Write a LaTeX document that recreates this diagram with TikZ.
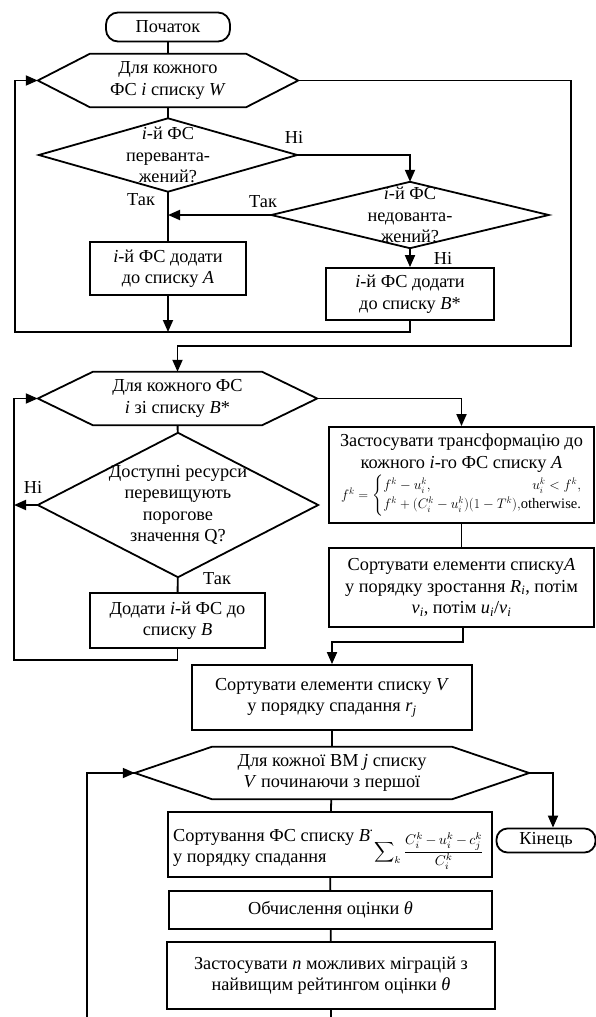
\documentclass[tikz,border=0pt]{standalone}
\usepackage{amsmath}
\usepackage{graphicx}
\usepackage{fontspec}
\setmainfont{Liberation Serif}
\usetikzlibrary{arrows.meta,calc}
\newcommand{\bodyfont}{\fontsize{18.3}{21.5}\selectfont}
\newcommand{\hexpath}[2]{\draw[ln] (#1.west) -- ([xshift=#2]#1.north west) -- ([xshift=-#2]#1.north east) -- (#1.east) -- ([xshift=-#2]#1.south east) -- ([xshift=#2]#1.south west) -- cycle;}
\newcommand{\diapath}[1]{\draw[ln] (#1.west) -- (#1.north) -- (#1.east) -- (#1.south) -- cycle;}
\newcommand{\ssub}[2]{\textit{#1}\textsubscript{\textit{#2}}}
\tikzset{
  ln/.style={line width=1.8pt, line join=miter},
  arr/.style={ln, -{Triangle[length=12pt,width=10pt]}},
  box/.style={draw, line width=1.8pt, rectangle, inner sep=0pt, align=center, font=\bodyfont},
  term/.style={draw, line width=1.8pt, rectangle, rounded corners=12pt, inner sep=0pt, align=center, font=\bodyfont},
  frame/.style={rectangle, inner sep=0pt, align=center, font=\bodyfont},
  lab/.style={font=\bodyfont, inner sep=0pt}
}
\begin{document}
\begin{tikzpicture}[x=1pt,y=-1pt]
\useasboundingbox (0,0) rectangle (596,1017);
% --- part 1
\node[term, minimum width=124pt, minimum height=29pt] (start) at (168,27) {Початок};
\node[frame, minimum width=260pt, minimum height=53pt] (hex1) at (168,80.5) {Для кожного\\ФС \textit{i} списку \textit{W}};
\hexpath{hex1}{52pt}
\node[frame, minimum width=258pt, minimum height=73pt] (dia1) at (168,155) {\textit{i}-й ФС\\переванта-\\жений?};
\diapath{dia1}
\node[frame, minimum width=277pt, minimum height=66pt] (dia2) at (410,215) {\textit{i}-й ФС\\недованта-\\жений?};
\diapath{dia2}
\node[box, minimum width=156pt, minimum height=53pt] (boxA) at (168,268.5) {\textit{i}-й ФС додати\\до списку \textit{A}};
\node[box, minimum width=168pt, minimum height=52pt] (boxBs) at (410,294) {\textit{i}-й ФС додати\\до списку \textit{B}*};
\node[lab] (l1) at (294,137) {Ні};
\node[lab] (l2) at (263,202) {Так};
\node[lab] (l3) at (141,200) {Так};
\node[lab] (l4) at (443,258) {Ні};
\coordinate (j1) at (168,332);
\coordinate (j1b) at (410,332);
\coordinate (lp1) at (15,332);
\coordinate (r1) at (571,346);
\draw[ln] (start) -- (hex1);
\draw[ln] (hex1) -- (dia1);
\draw[arr] (dia1.east) -| (dia2.north);
\draw[ln] (dia1) -- (boxA);
\draw[arr] (dia2.west) -- (dia2.west -| dia1.south);
\draw[arr] (dia2) -- (boxBs);
\draw[arr] (boxA) -- (j1);
\draw[ln] (boxBs) -- (j1b) -- (lp1) |- (hex1.west);
\draw[arr] (lp1 |- hex1.west) -- (hex1.west);
% --- part 2
\node[frame, minimum width=279pt, minimum height=53pt] (hex2) at (177.5,398.5) {Для кожного ФС\\\textit{i} зі списку \textit{B}*};
\hexpath{hex2}{55pt}
\draw[ln] (hex1.east) -| (r1) -| ($(hex2.north)+(0,-14)$);
\draw[arr] ($(hex2.north)+(0,-14)$) -- (hex2.north);
\node[frame, minimum width=280pt, minimum height=144pt] (dia3) at (178,505) {Доступні ресурси\\перевищують\\порогове\\значення Q?};
\diapath{dia3}
\node[box, minimum width=175pt, minimum height=55pt] (boxB) at (177.5,620.5) {Додати \textit{i}-й ФС до\\списку \textit{B}};
\node[lab] (l5) at (33,487) {Ні};
\node[lab] (l6) at (217,579) {Так};
\coordinate (lp2) at (14,660);
\draw[ln] (hex2) -- (dia3);
\draw[ln] (dia3) -- (boxB);
\draw[ln] (boxB.south) -- (boxB.south |- lp2) -- (lp2) |- (hex2.west);
\draw[arr] (lp2 |- hex2.west) -- (hex2.west);
\draw[arr] (dia3.west) -- (dia3.west -| lp2);
\node[box, minimum width=265pt, minimum height=96pt] (boxT) at (461.5,475) {Застосувати трансформацію до\\кожного \textit{i}-го ФС списку \textit{A}\\[2pt]
\resizebox{241pt}{!}{$f^k=\left\{\renewcommand{\arraystretch}{1.1}\begin{array}{@{}l@{}r@{}} f^k-u_i^k, & u_i^k<f^k,\\ f^k+(C_i^k-u_i^k)(1-T^k), & \text{otherwise.}\end{array}\right.$}};
\node[box, minimum width=265pt, minimum height=79pt] (boxS) at (461.5,587.5) {Сортувати елементи списку\textit{A}\\у порядку зростання \ssub{R}{i}, потім\\\ssub{v}{i}, потім \ssub{u}{i}/\ssub{v}{i}};
\draw[arr] (hex2.east) -| (boxT.north);
\draw[ln] (boxT) -- (boxS);
% --- part 3
\node[box, minimum width=280pt, minimum height=65pt] (boxV) at (332,697.5) {Сортувати елементи списку \textit{V}\\у порядку спадання \ssub{r}{j}};
\coordinate (j2) at (463,642);
\draw[ln] (boxS.south -| j2) -- (j2) -| ($(boxV.north)+(0,-12)$);
\draw[arr] ($(boxV.north)+(0,-12)$) -- (boxV.north);
\node[frame, minimum width=394pt, minimum height=52pt] (hex3) at (332,773) {Для кожної ВМ \textit{j} списку\\\textit{V} починаючи з першої};
\hexpath{hex3}{77pt}
\draw[ln] (boxV) -- (hex3);
\node[term, minimum width=99pt, minimum height=24pt, rounded corners=11pt] (end) at (546,840.5) {Кінець};
\draw[arr] (hex3.east) -| ([xshift=7pt]end.north);
\node[box, minimum width=324pt, minimum height=65pt] (sortB) at (330,844.5) {};
\node[frame, align=left, anchor=west] (sortBt) at (173,848) {Сортування ФС списку \textit{B}\raisebox{1.2ex}{\textbf{\fontsize{10}{10}\selectfont.}}\\у порядку спадання};
\node[inner sep=0pt] (sortBf) at (429,851) {\resizebox{110pt}{!}{$\displaystyle\sum\nolimits_k\frac{C_i^k{\,-\,}u_i^k{\,-\,}c_j^k}{C_i^k}$}};
\node[box, minimum width=323pt, minimum height=38pt] (theta) at (330.5,910) {Обчислення оцінки \textit{θ}};
\node[box, minimum width=328pt, minimum height=67pt] (mig) at (331,975.5) {Застосувати \textit{n} можливих міграцій з\\найвищим рейтингом оцінки \textit{θ}};
\coordinate (bot) at (332,1020);
\coordinate (lp3) at (87,1020);
\draw[ln] (hex3) -- (sortB);
\draw[ln] (sortB) -- (theta);
\draw[ln] (theta) -- (mig);
\draw[ln] (mig.south) -- (mig.south |- bot);
\draw[ln] (lp3) |- (hex3.west);
\draw[arr] (lp3 |- hex3.west) -- (hex3.west);
\end{tikzpicture}
\end{document}
